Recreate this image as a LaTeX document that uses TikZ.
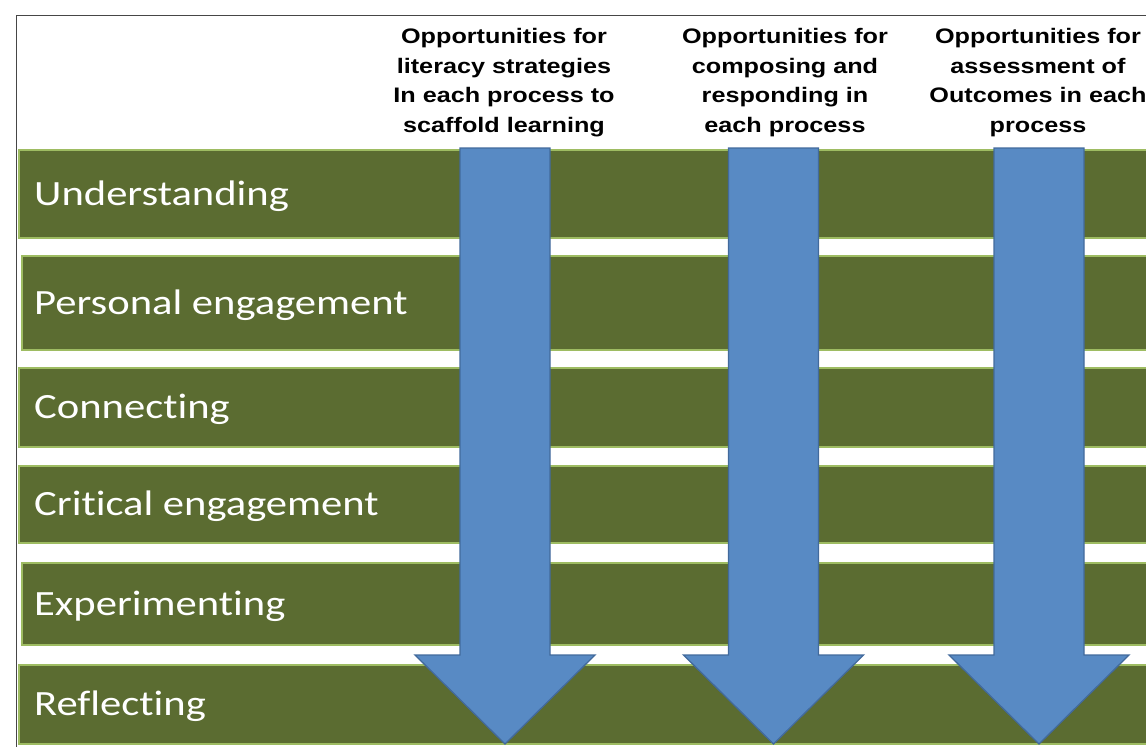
\documentclass[tikz,border=0pt]{standalone}
\usepackage{fontspec}
\setmainfont{Carlito}[Ligatures=NoCommon]
\newfontfamily\headfont{Liberation Sans}
\usetikzlibrary{positioning}

\definecolor{barolive}{RGB}{91,108,49}
\definecolor{baredge}{RGB}{158,188,98}
\definecolor{arrowblue}{RGB}{88,138,196}
\definecolor{arrowedge}{RGB}{66,106,156}
\definecolor{framegray}{RGB}{70,70,70}

% the slide text is set a little wider than the font
\newcommand{\wide}[1]{\scalebox{1.2}[1]{#1}}
\newcommand{\headtext}[1]{\wide{\begin{tabular}{@{}c@{}}#1\end{tabular}}}

\tikzset{
  bar/.style={fill=barolive, draw=baredge, line width=1.2pt},
  barlabel/.style={anchor=west, text=white, inner sep=0pt,
    font=\fontsize{35.5}{40}\selectfont, text height=22pt, text depth=0pt},
  downarrow/.style={fill=arrowblue, draw=arrowedge, line width=1.3pt, line join=miter},
  heading/.style={inner sep=0pt, font=\headfont\bfseries\fontsize{21}{29.7}\selectfont},
  frame/.style={draw=framegray, line width=1pt}
}

\begin{document}
\begin{tikzpicture}[x=1pt,y=-1pt]
    \useasboundingbox (0,0) rectangle (1146,747);
    \clip (0,0) rectangle (1146,747);

    % outer frame (only top and left edges show)
    \draw[frame] (16,760) -- (16,15) -- (1160,15);

    % the six process bars
    \foreach \ya/\yb/\lft/\nm/\txt in {
        150/238/19/understanding/Understanding,
        256/350/22/personal/Personal engagement,
        368/447/19/connecting/Connecting,
        466/543/19/critical/Critical engagement,
        563/645/22/experimenting/Experimenting,
        665/744/19/reflecting/Reflecting}
    {
        \draw[bar] (\lft,\ya) rectangle (1160,\yb);
        \node[barlabel] (\nm) at (34,{(\ya+\yb)/2}) {\wide{\txt}};
    }

    % block arrows running down through every process
    \foreach \cx in {505,773.5,1039}
    {
        \draw[downarrow] ({\cx-45},148) -- ({\cx+45},148) -- ({\cx+45},655)
            -- ({\cx+90},655) -- (\cx,744) -- ({\cx-90},655)
            -- ({\cx-45},655) -- cycle;
    }

    % column headings
    \node[heading] (literacy) at (504,82)
        {\headtext{Opportunities for\\literacy strategies\\In each process to\\scaffold learning}};
    \node[heading] (composing) at (785,82)
        {\headtext{Opportunities for\\composing and\\responding in\\each process}};
    \node[heading] (assessment) at (1038,82)
        {\headtext{Opportunities for\\assessment of\\Outcomes in each\\process}};
\end{tikzpicture}
\end{document}
